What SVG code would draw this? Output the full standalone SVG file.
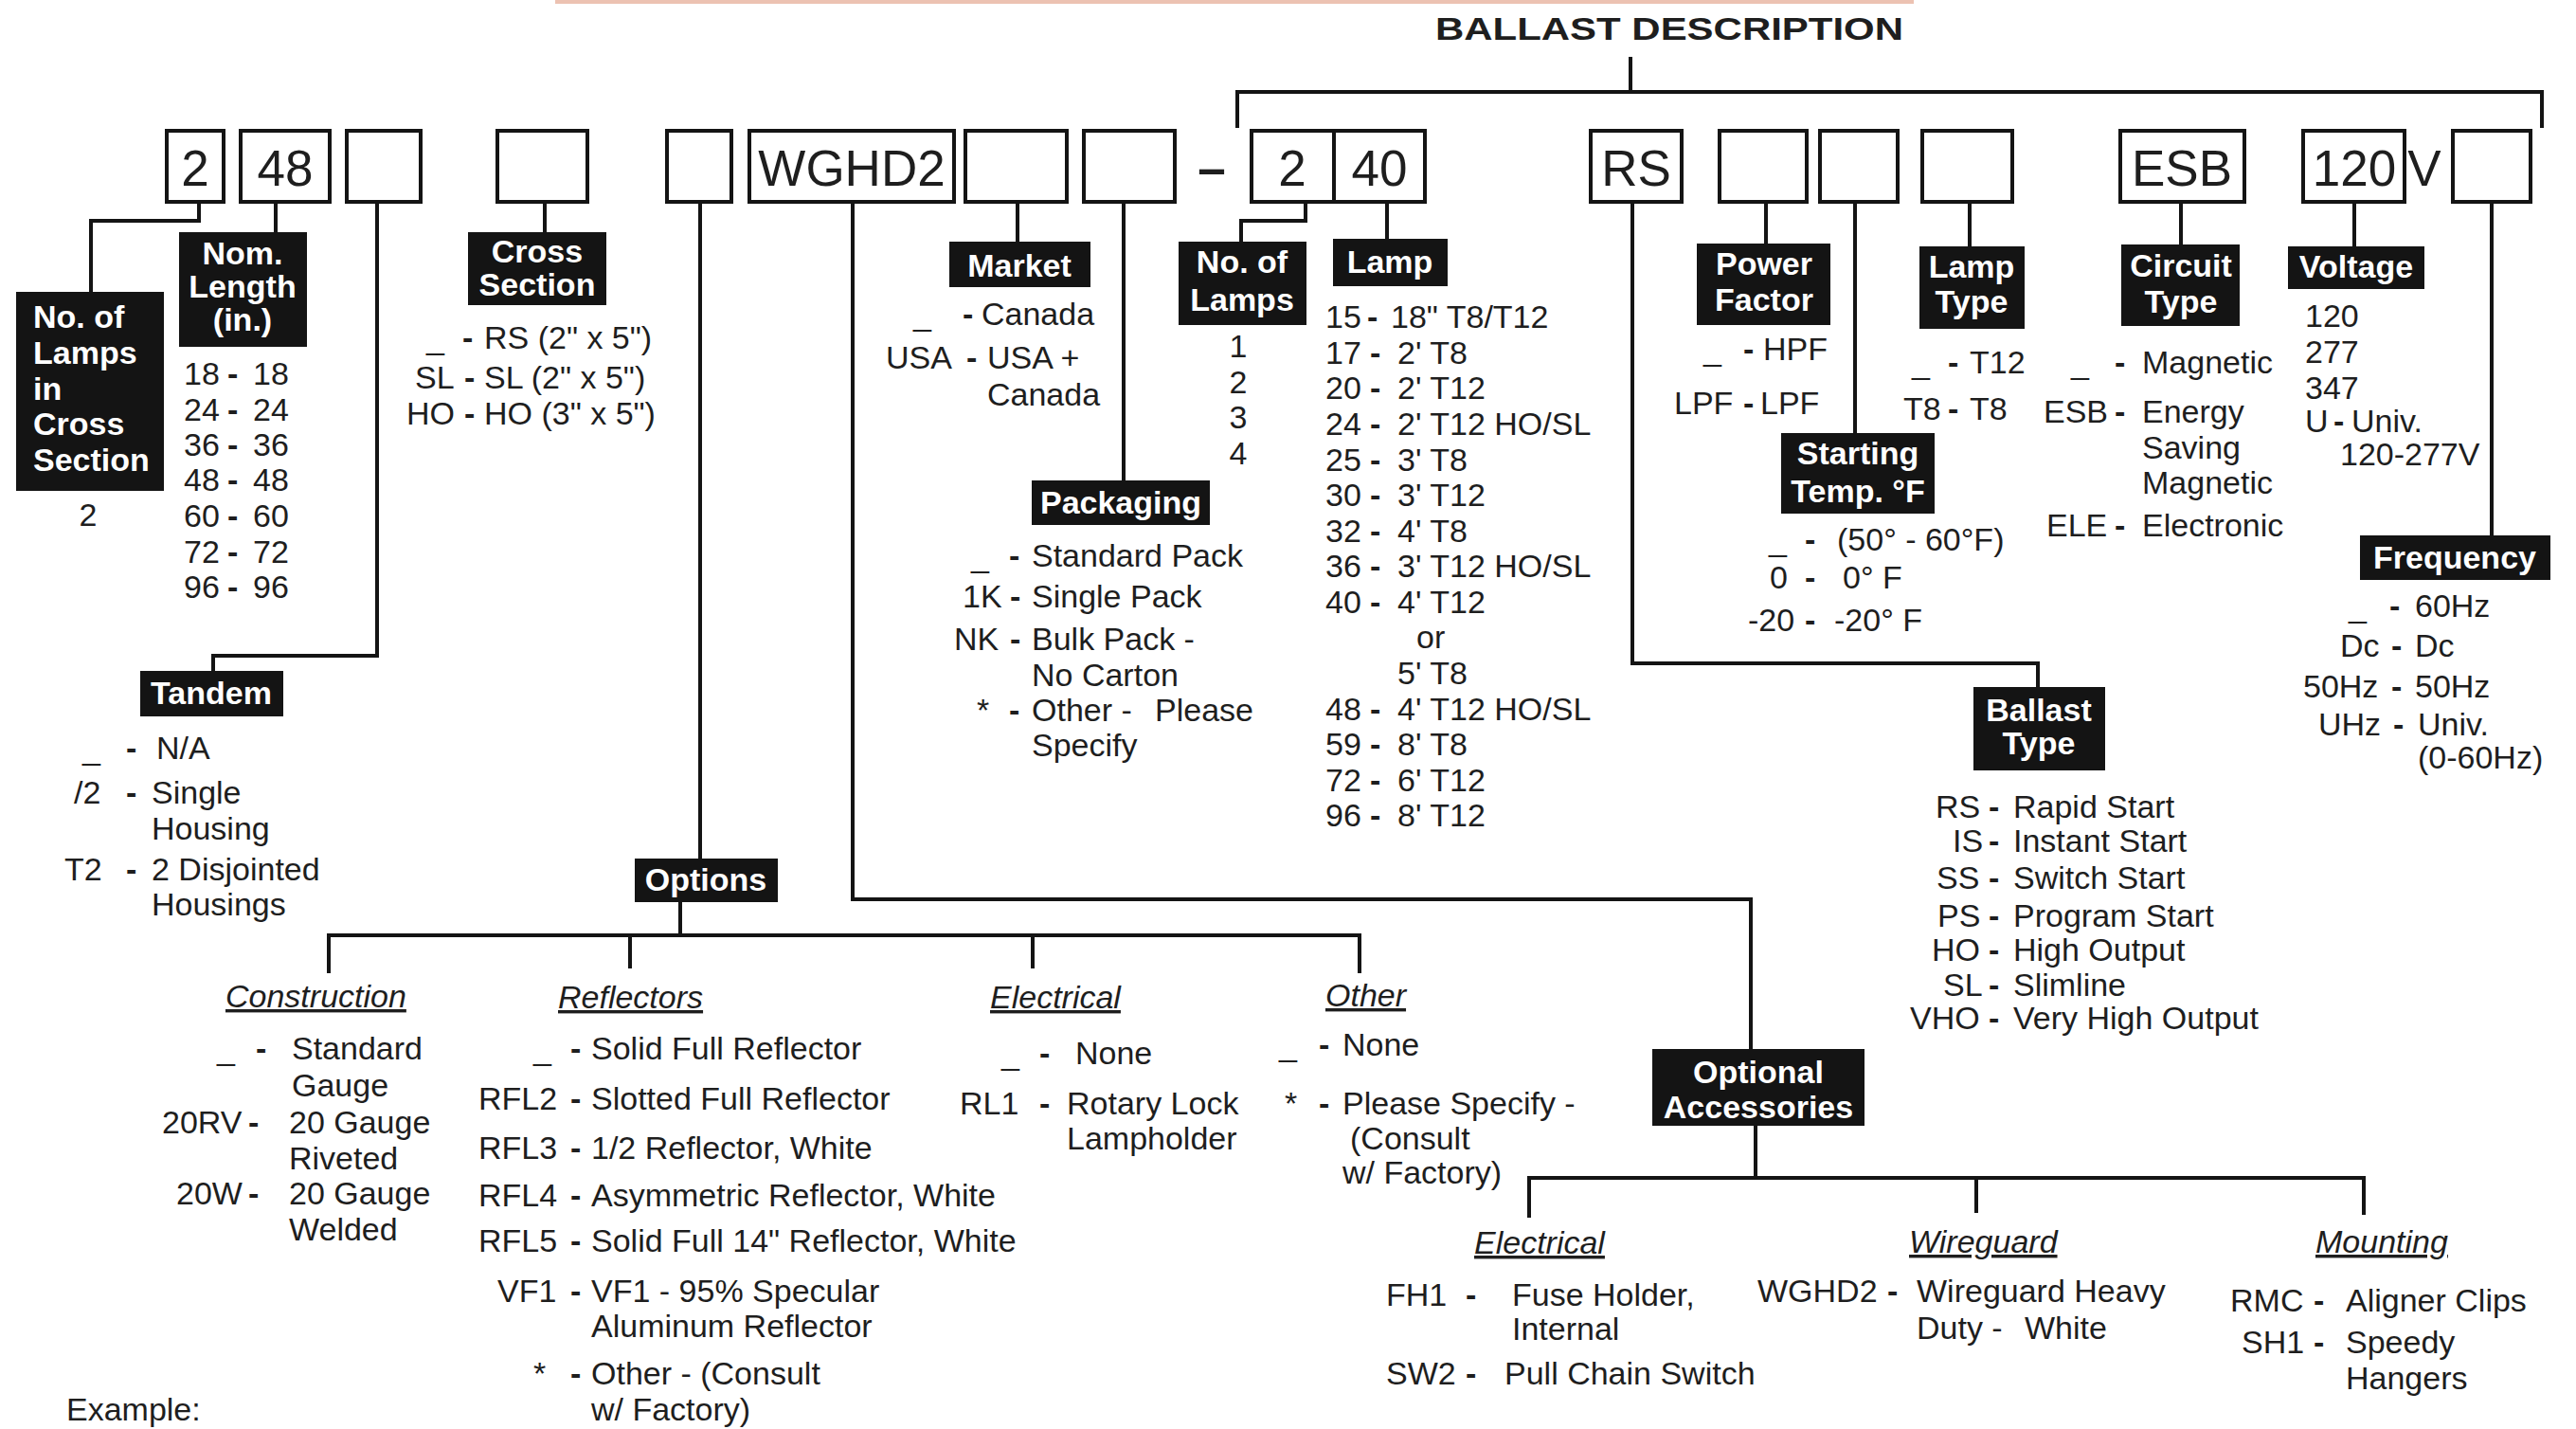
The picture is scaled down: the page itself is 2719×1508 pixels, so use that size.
<svg xmlns="http://www.w3.org/2000/svg" width="2719" height="1508" viewBox="0 0 2719 1508">
<style>
.bx{fill:none;stroke:#141414;stroke-width:4}
.lb{fill:#141414}
.lt{font-family:"Liberation Sans",Arial,sans-serif;font-weight:bold;font-size:34px;fill:#fff;text-anchor:middle}
.t{font-family:"Liberation Sans",Arial,sans-serif;font-size:34px;fill:#1e1e1e}
.d{font-weight:bold}
.big{font-family:"Liberation Sans",Arial,sans-serif;font-size:53px;fill:#1e1e1e;text-anchor:middle}
.hd{font-family:"Liberation Sans",Arial,sans-serif;font-size:34px;font-style:italic;fill:#1e1e1e;text-decoration:underline}
.cn{fill:none;stroke:#141414;stroke-width:4}
</style>
<rect x="586" y="0" width="1434" height="4" fill="#ecc2b2"/>
<g id="title"><text class="t" x="1515" y="42" font-weight="bold" textLength="494" lengthAdjust="spacingAndGlyphs">BALLAST DESCRIPTION</text></g>

<g id="connectors">
<path class="cn" d="M210 213V233H96V308"/>
<path class="cn" d="M291 213V245"/>
<path class="cn" d="M398 213V692H225V708"/>
<path class="cn" d="M575 213V245"/>
<path class="cn" d="M739 213V906"/>
<path class="cn" d="M900 213V949H1848V1107"/>
<path class="cn" d="M1074 213V255"/>
<path class="cn" d="M1186 213V507"/>
<path class="cn" d="M1378 213V233H1310V255"/>
<path class="cn" d="M1464 213V252"/>
<path class="cn" d="M1723 213V700H2151V725"/>
<path class="cn" d="M1864 213V257"/>
<path class="cn" d="M1958 213V457"/>
<path class="cn" d="M2079 213V260"/>
<path class="cn" d="M2302 213V258"/>
<path class="cn" d="M2485 213V260"/>
<path class="cn" d="M2630 213V565"/>
<path class="cn" d="M1721 60V97M1306 135V97H2683V135"/>
<path class="cn" d="M718 952V987M347 1027V987H1435V1027M665 987V1022M1090 987V1022"/>
<path class="cn" d="M1853 1188V1243M1614 1285V1243H2495V1282M2086 1243V1280"/>
</g>

<g id="code-boxes">
<g id="box-lamps"><rect class="bx" x="176" y="138" width="60" height="75"/><text class="big" x="206" y="196">2</text></g>
<g id="box-length"><rect class="bx" x="254" y="138" width="94" height="75"/><text class="big" x="301" y="196">48</text></g>
<g id="box-tandem"><rect class="bx" x="366" y="138" width="78" height="75"/></g>
<g id="box-cross"><rect class="bx" x="525" y="138" width="95" height="75"/></g>
<g id="box-options"><rect class="bx" x="704" y="138" width="68" height="75"/></g>
<g id="box-wg"><rect class="bx" x="791" y="138" width="216" height="75"/><text class="big" x="899" y="196">WGHD2</text></g>
<g id="box-market"><rect class="bx" x="1019" y="138" width="107" height="75"/></g>
<g id="box-pack"><rect class="bx" x="1144" y="138" width="96" height="75"/></g>
<g id="dash"><text class="big" x="1279" y="196" font-weight="bold">–</text></g>
<g id="box-nlamps"><rect class="bx" x="1321" y="138" width="87" height="75"/><text class="big" x="1364" y="196">2</text></g>
<g id="box-lamp"><rect class="bx" x="1408" y="138" width="96" height="75"/><text class="big" x="1456" y="196">40</text></g>
<g id="box-rs"><rect class="bx" x="1679" y="138" width="96" height="75"/><text class="big" x="1727" y="196">RS</text></g>
<g id="box-pf"><rect class="bx" x="1815" y="138" width="92" height="75"/></g>
<g id="box-st"><rect class="bx" x="1921" y="138" width="82" height="75"/></g>
<g id="box-lt"><rect class="bx" x="2029" y="138" width="95" height="75"/></g>
<g id="box-esb"><rect class="bx" x="2238" y="138" width="131" height="75"/><text class="big" x="2303" y="196">ESB</text></g>
<g id="box-volt"><rect class="bx" x="2431" y="138" width="107" height="75"/><text class="big" x="2485" y="196">120</text><text class="big" x="2559" y="196">V</text></g>
<g id="box-freq"><rect class="bx" x="2589" y="138" width="82" height="75"/></g>
</g>

<g id="node-nolamps-cross">
<rect class="lb" x="17" y="308" width="156" height="210"/>
<text class="lt" style="text-anchor:start"><tspan x="35" y="346">No. of</tspan><tspan x="35" y="384">Lamps</tspan><tspan x="35" y="422">in</tspan><tspan x="35" y="459">Cross</tspan><tspan x="35" y="497">Section</tspan></text>
<text class="t" x="93" y="555" text-anchor="middle">2</text>
</g>

<g id="node-length">
<rect class="lb" x="189" y="245" width="135" height="121"/>
<text class="lt"><tspan x="256" y="279">Nom.</tspan><tspan x="256" y="314">Length</tspan><tspan x="256" y="349">(in.)</tspan></text>
<text class="t" y="406"><tspan x="194">18</tspan><tspan class="d" x="240">-</tspan><tspan x="267">18</tspan></text>
<text class="t" y="444"><tspan x="194">24</tspan><tspan class="d" x="240">-</tspan><tspan x="267">24</tspan></text>
<text class="t" y="481"><tspan x="194">36</tspan><tspan class="d" x="240">-</tspan><tspan x="267">36</tspan></text>
<text class="t" y="518"><tspan x="194">48</tspan><tspan class="d" x="240">-</tspan><tspan x="267">48</tspan></text>
<text class="t" y="556"><tspan x="194">60</tspan><tspan class="d" x="240">-</tspan><tspan x="267">60</tspan></text>
<text class="t" y="594"><tspan x="194">72</tspan><tspan class="d" x="240">-</tspan><tspan x="267">72</tspan></text>
<text class="t" y="631"><tspan x="194">96</tspan><tspan class="d" x="240">-</tspan><tspan x="267">96</tspan></text>
</g>

<g id="node-cross">
<rect class="lb" x="494" y="245" width="146" height="77"/>
<text class="lt"><tspan x="567" y="277">Cross</tspan><tspan x="567" y="312">Section</tspan></text>
<text class="t" y="368"><tspan x="450">_</tspan><tspan class="d" x="488">-</tspan><tspan x="511">RS (2" x 5")</tspan></text>
<text class="t" y="410"><tspan x="438">SL</tspan><tspan class="d" x="490">-</tspan><tspan x="511">SL (2" x 5")</tspan></text>
<text class="t" y="448"><tspan x="429">HO</tspan><tspan class="d" x="490">-</tspan><tspan x="511">HO (3" x 5")</tspan></text>
</g>

<g id="node-tandem">
<rect class="lb" x="148" y="708" width="151" height="48"/>
<text class="lt" x="223" y="743">Tandem</text>
<text class="t" y="801"><tspan x="87">_</tspan><tspan class="d" x="133">-</tspan><tspan x="165">N/A</tspan></text>
<text class="t" y="848"><tspan x="78">/2</tspan><tspan class="d" x="133">-</tspan><tspan x="160">Single</tspan></text>
<text class="t" x="160" y="886">Housing</text>
<text class="t" y="929"><tspan x="68">T2</tspan><tspan class="d" x="133">-</tspan><tspan x="160">2 Disjointed</tspan></text>
<text class="t" x="160" y="966">Housings</text>
</g>

<g id="node-options">
<rect class="lb" x="670" y="906" width="151" height="46"/>
<text class="lt" x="745" y="940">Options</text>
</g>

<g id="node-construction">
<text class="hd" x="238" y="1063">Construction</text>
<text class="t" y="1118"><tspan x="229">_</tspan><tspan class="d" x="270">-</tspan><tspan x="308">Standard</tspan></text>
<text class="t" x="308" y="1157">Gauge</text>
<text class="t" y="1196"><tspan x="171">20RV</tspan><tspan class="d" x="262">-</tspan><tspan x="305">20 Gauge</tspan></text>
<text class="t" x="305" y="1234">Riveted</text>
<text class="t" y="1271"><tspan x="186">20W</tspan><tspan class="d" x="262">-</tspan><tspan x="305">20 Gauge</tspan></text>
<text class="t" x="305" y="1309">Welded</text>
<text class="t" x="70" y="1499">Example:</text>
</g>

<g id="node-reflectors">
<text class="hd" x="589" y="1064">Reflectors</text>
<text class="t" y="1118"><tspan x="563">_</tspan><tspan class="d" x="602">-</tspan><tspan x="624">Solid Full Reflector</tspan></text>
<text class="t" y="1171"><tspan x="505">RFL2</tspan><tspan class="d" x="602">-</tspan><tspan x="624">Slotted Full Reflector</tspan></text>
<text class="t" y="1223"><tspan x="505">RFL3</tspan><tspan class="d" x="602">-</tspan><tspan x="624">1/2 Reflector, White</tspan></text>
<text class="t" y="1273"><tspan x="505">RFL4</tspan><tspan class="d" x="602">-</tspan><tspan x="624">Asymmetric Reflector, White</tspan></text>
<text class="t" y="1321"><tspan x="505">RFL5</tspan><tspan class="d" x="602">-</tspan><tspan x="624">Solid Full 14" Reflector, White</tspan></text>
<text class="t" y="1374"><tspan x="525">VF1</tspan><tspan class="d" x="602">-</tspan><tspan x="624">VF1 - 95% Specular</tspan></text>
<text class="t" x="624" y="1411">Aluminum Reflector</text>
<text class="t" y="1461"><tspan x="563">*</tspan><tspan class="d" x="602">-</tspan><tspan x="624">Other - (Consult</tspan></text>
<text class="t" x="624" y="1499">w/ Factory)</text>
</g>

<g id="node-electrical-opt">
<text class="hd" x="1045" y="1064">Electrical</text>
<text class="t" y="1123"><tspan x="1057">_</tspan><tspan class="d" x="1097">-</tspan><tspan x="1135">None</tspan></text>
<text class="t" y="1176"><tspan x="1013">RL1</tspan><tspan class="d" x="1097">-</tspan><tspan x="1126">Rotary Lock</tspan></text>
<text class="t" x="1126" y="1213">Lampholder</text>
</g>

<g id="node-other">
<text class="hd" x="1399" y="1062">Other</text>
<text class="t" y="1114"><tspan x="1350">_</tspan><tspan class="d" x="1392">-</tspan><tspan x="1417">None</tspan></text>
<text class="t" y="1176"><tspan x="1356">*</tspan><tspan class="d" x="1392">-</tspan><tspan x="1417">Please Specify -</tspan></text>
<text class="t" x="1425" y="1213">(Consult</text>
<text class="t" x="1417" y="1249">w/ Factory)</text>
</g>

<g id="node-market">
<rect class="lb" x="1002" y="255" width="149" height="48"/>
<text class="lt" x="1076" y="292">Market</text>
<text class="t" y="343"><tspan x="964">_</tspan><tspan class="d" x="1016">-</tspan><tspan x="1036">Canada</tspan></text>
<text class="t" y="389"><tspan x="935">USA</tspan><tspan class="d" x="1020">-</tspan><tspan x="1042">USA +</tspan></text>
<text class="t" x="1042" y="428">Canada</text>
</g>

<g id="node-packaging">
<rect class="lb" x="1089" y="507" width="188" height="47"/>
<text class="lt" x="1183" y="542">Packaging</text>
<text class="t" y="598"><tspan x="1025">_</tspan><tspan class="d" x="1065">-</tspan><tspan x="1089">Standard Pack</tspan></text>
<text class="t" y="641"><tspan x="1016">1K</tspan><tspan class="d" x="1066">-</tspan><tspan x="1089">Single Pack</tspan></text>
<text class="t" y="686"><tspan x="1007">NK</tspan><tspan class="d" x="1066">-</tspan><tspan x="1089">Bulk Pack -</tspan></text>
<text class="t" x="1089" y="724">No Carton</text>
<text class="t" y="761"><tspan x="1031">*</tspan><tspan class="d" x="1065">-</tspan><tspan x="1089">Other -</tspan><tspan x="1219">Please</tspan></text>
<text class="t" x="1089" y="798">Specify</text>
</g>

<g id="node-nolamps">
<rect class="lb" x="1244" y="255" width="135" height="88"/>
<text class="lt"><tspan x="1311" y="288">No. of</tspan><tspan x="1311" y="328">Lamps</tspan></text>
<text class="t" text-anchor="middle"><tspan x="1307" y="377">1</tspan><tspan x="1307" y="415">2</tspan><tspan x="1307" y="452">3</tspan><tspan x="1307" y="490">4</tspan></text>
</g>

<g id="node-lamp">
<rect class="lb" x="1407" y="252" width="121" height="50"/>
<text class="lt" x="1467" y="288">Lamp</text>
<text class="t" y="346"><tspan x="1399">15</tspan><tspan class="d" x="1443">-</tspan><tspan x="1468">18" T8/T12</tspan></text>
<text class="t" y="384"><tspan x="1399">17</tspan><tspan class="d" x="1446">-</tspan><tspan x="1475">2' T8</tspan></text>
<text class="t" y="421"><tspan x="1399">20</tspan><tspan class="d" x="1446">-</tspan><tspan x="1475">2' T12</tspan></text>
<text class="t" y="459"><tspan x="1399">24</tspan><tspan class="d" x="1446">-</tspan><tspan x="1475">2' T12 HO/SL</tspan></text>
<text class="t" y="497"><tspan x="1399">25</tspan><tspan class="d" x="1446">-</tspan><tspan x="1475">3' T8</tspan></text>
<text class="t" y="534"><tspan x="1399">30</tspan><tspan class="d" x="1446">-</tspan><tspan x="1475">3' T12</tspan></text>
<text class="t" y="572"><tspan x="1399">32</tspan><tspan class="d" x="1446">-</tspan><tspan x="1475">4' T8</tspan></text>
<text class="t" y="609"><tspan x="1399">36</tspan><tspan class="d" x="1446">-</tspan><tspan x="1475">3' T12 HO/SL</tspan></text>
<text class="t" y="647"><tspan x="1399">40</tspan><tspan class="d" x="1446">-</tspan><tspan x="1475">4' T12</tspan></text>
<text class="t" x="1495" y="684">or</text>
<text class="t" x="1475" y="722">5' T8</text>
<text class="t" y="760"><tspan x="1399">48</tspan><tspan class="d" x="1446">-</tspan><tspan x="1475">4' T12 HO/SL</tspan></text>
<text class="t" y="797"><tspan x="1399">59</tspan><tspan class="d" x="1446">-</tspan><tspan x="1475">8' T8</tspan></text>
<text class="t" y="835"><tspan x="1399">72</tspan><tspan class="d" x="1446">-</tspan><tspan x="1475">6' T12</tspan></text>
<text class="t" y="872"><tspan x="1399">96</tspan><tspan class="d" x="1446">-</tspan><tspan x="1475">8' T12</tspan></text>
</g>

<g id="node-ballast-type">
<rect class="lb" x="2083" y="725" width="139" height="88"/>
<text class="lt"><tspan x="2152" y="761">Ballast</tspan><tspan x="2152" y="796">Type</tspan></text>
<text class="t" y="863"><tspan x="2043">RS</tspan><tspan class="d" x="2099">-</tspan><tspan x="2125">Rapid Start</tspan></text>
<text class="t" y="899"><tspan x="2061">IS</tspan><tspan class="d" x="2099">-</tspan><tspan x="2125">Instant Start</tspan></text>
<text class="t" y="938"><tspan x="2044">SS</tspan><tspan class="d" x="2099">-</tspan><tspan x="2125">Switch Start</tspan></text>
<text class="t" y="978"><tspan x="2045">PS</tspan><tspan class="d" x="2099">-</tspan><tspan x="2125">Program Start</tspan></text>
<text class="t" y="1014"><tspan x="2039">HO</tspan><tspan class="d" x="2099">-</tspan><tspan x="2125">High Output</tspan></text>
<text class="t" y="1051"><tspan x="2051">SL</tspan><tspan class="d" x="2099">-</tspan><tspan x="2125">Slimline</tspan></text>
<text class="t" y="1086"><tspan x="2016">VHO</tspan><tspan class="d" x="2099">-</tspan><tspan x="2125">Very High Output</tspan></text>
</g>

<g id="node-power-factor">
<rect class="lb" x="1791" y="257" width="141" height="86"/>
<text class="lt"><tspan x="1862" y="290">Power</tspan><tspan x="1862" y="328">Factor</tspan></text>
<text class="t" y="380"><tspan x="1798">_</tspan><tspan class="d" x="1840">-</tspan><tspan x="1861">HPF</tspan></text>
<text class="t" y="437"><tspan x="1767">LPF</tspan><tspan class="d" x="1840">-</tspan><tspan x="1858">LPF</tspan></text>
</g>

<g id="node-starting-temp">
<rect class="lb" x="1880" y="457" width="162" height="85"/>
<text class="lt"><tspan x="1961" y="490">Starting</tspan><tspan x="1961" y="530">Temp. °F</tspan></text>
<text class="t" y="581"><tspan x="1867">_</tspan><tspan class="d" x="1905">-</tspan><tspan x="1939">(50° - 60°F)</tspan></text>
<text class="t" y="621"><tspan x="1868">0</tspan><tspan class="d" x="1905">-</tspan><tspan x="1945">0° F</tspan></text>
<text class="t" y="666"><tspan x="1845">-20</tspan><tspan class="d" x="1905">-</tspan><tspan x="1936">-20° F</tspan></text>
</g>

<g id="node-lamp-type">
<rect class="lb" x="2026" y="260" width="111" height="87"/>
<text class="lt"><tspan x="2081" y="293">Lamp</tspan><tspan x="2081" y="330">Type</tspan></text>
<text class="t" y="394"><tspan x="2018">_</tspan><tspan class="d" x="2056">-</tspan><tspan x="2079">T12</tspan></text>
<text class="t" y="443"><tspan x="2009">T8</tspan><tspan class="d" x="2056">-</tspan><tspan x="2079">T8</tspan></text>
</g>

<g id="node-circuit-type">
<rect class="lb" x="2239" y="258" width="125" height="86"/>
<text class="lt"><tspan x="2302" y="292">Circuit</tspan><tspan x="2302" y="330">Type</tspan></text>
<text class="t" y="394"><tspan x="2186">_</tspan><tspan class="d" x="2232">-</tspan><tspan x="2261">Magnetic</tspan></text>
<text class="t" y="446"><tspan x="2157">ESB</tspan><tspan class="d" x="2232">-</tspan><tspan x="2261">Energy</tspan></text>
<text class="t" x="2261" y="484">Saving</text>
<text class="t" x="2261" y="521">Magnetic</text>
<text class="t" y="566"><tspan x="2160">ELE</tspan><tspan class="d" x="2232">-</tspan><tspan x="2261">Electronic</tspan></text>
</g>

<g id="node-voltage">
<rect class="lb" x="2415" y="260" width="144" height="45"/>
<text class="lt" x="2487" y="293">Voltage</text>
<text class="t" x="2433" y="345">120</text>
<text class="t" x="2433" y="383">277</text>
<text class="t" x="2433" y="421">347</text>
<text class="t" y="456"><tspan x="2433">U</tspan><tspan class="d" x="2463">-</tspan><tspan x="2482">Univ.</tspan></text>
<text class="t" x="2470" y="491">120-277V</text>
</g>

<g id="node-frequency">
<rect class="lb" x="2491" y="565" width="201" height="47"/>
<text class="lt" x="2591" y="600">Frequency</text>
<text class="t" y="651"><tspan x="2479">_</tspan><tspan class="d" x="2522">-</tspan><tspan x="2549">60Hz</tspan></text>
<text class="t" y="693"><tspan x="2470">Dc</tspan><tspan class="d" x="2524">-</tspan><tspan x="2549">Dc</tspan></text>
<text class="t" y="736"><tspan x="2431">50Hz</tspan><tspan class="d" x="2524">-</tspan><tspan x="2549">50Hz</tspan></text>
<text class="t" y="776"><tspan x="2447">UHz</tspan><tspan class="d" x="2526">-</tspan><tspan x="2552">Univ.</tspan></text>
<text class="t" x="2552" y="811">(0-60Hz)</text>
</g>

<g id="node-optional-accessories">
<rect class="lb" x="1744" y="1107" width="224" height="81"/>
<text class="lt"><tspan x="1856" y="1143">Optional</tspan><tspan x="1856" y="1180">Accessories</tspan></text>
</g>

<g id="node-electrical-acc">
<text class="hd" x="1556" y="1323">Electrical</text>
<text class="t" y="1378"><tspan x="1463">FH1</tspan><tspan class="d" x="1547">-</tspan><tspan x="1596">Fuse Holder,</tspan></text>
<text class="t" x="1596" y="1414">Internal</text>
<text class="t" y="1461"><tspan x="1463">SW2</tspan><tspan class="d" x="1547">-</tspan><tspan x="1588">Pull Chain Switch</tspan></text>
</g>

<g id="node-wireguard">
<text class="hd" x="2015" y="1322">Wireguard</text>
<text class="t" y="1374"><tspan x="1855">WGHD2</tspan><tspan class="d" x="1992">-</tspan><tspan x="2023">Wireguard Heavy</tspan></text>
<text class="t" y="1413"><tspan x="2023">Duty -</tspan><tspan x="2137">White</tspan></text>
</g>

<g id="node-mounting">
<text class="hd" x="2444" y="1322">Mounting</text>
<text class="t" y="1384"><tspan x="2354">RMC</tspan><tspan class="d" x="2442">-</tspan><tspan x="2476">Aligner Clips</tspan></text>
<text class="t" y="1428"><tspan x="2366">SH1</tspan><tspan class="d" x="2442">-</tspan><tspan x="2476">Speedy</tspan></text>
<text class="t" x="2476" y="1466">Hangers</text>
</g>
</svg>
